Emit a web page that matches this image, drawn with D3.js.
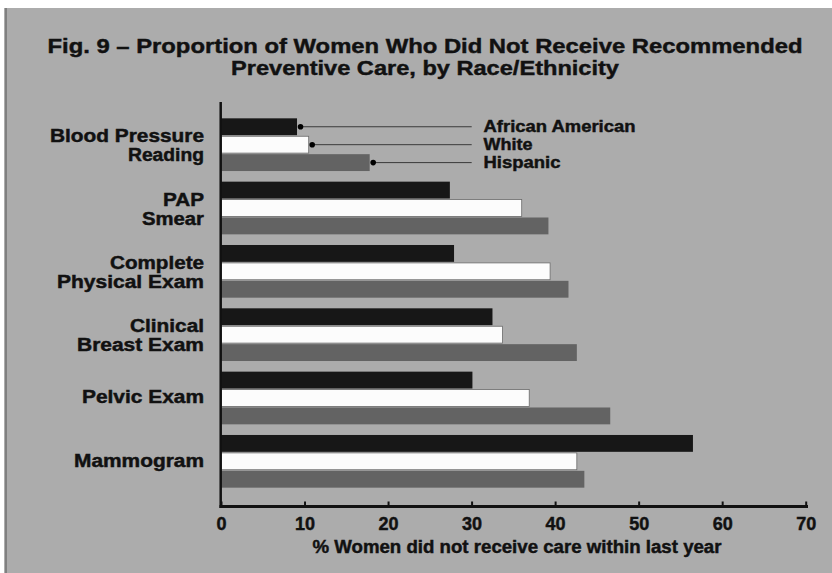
<!DOCTYPE html>
<html>
<head>
<meta charset="utf-8">
<script src="https://cdn.jsdelivr.net/npm/d3@7"></script>
<style>
  html, body { margin: 0; padding: 0; background: #ffffff; }
  svg { display: block; }
  text { font-family: "Liberation Sans", Arial, Helvetica, sans-serif; font-weight: bold; fill: #111;
         stroke: #111; stroke-width: 0.45px; }
</style>
</head>
<body>
<script>
// ---- data ----
const categories = ["Blood Pressure Reading", "PAP Smear", "Complete Physical Exam",
                    "Clinical Breast Exam", "Pelvic Exam", "Mammogram"];
const categoryLines = [["Blood Pressure", "Reading"], ["PAP", "Smear"], ["Complete", "Physical Exam"],
                       ["Clinical", "Breast Exam"], ["Pelvic Exam"], ["Mammogram"]];
const seriesNames = ["African American", "White", "Hispanic"];
const africanAmerican = [9.1, 27.4, 27.9, 32.5, 30.1, 56.5];
const white           = [10.5, 36.0, 39.4, 33.7, 36.9, 42.6];
const hispanic        = [17.8, 39.2, 41.6, 42.6, 46.6, 43.5];
const xTicks = [0, 10, 20, 30, 40, 50, 60, 70];
const titleLines = ["Fig. 9 \u2013 Proportion of Women Who Did Not Receive Recommended",
                    "Preventive Care, by Race/Ethnicity"];
const xAxisTitle = "% Women did not receive care within last year";

// ---- layout ----
const W = 832, H = 573;
const seriesValues = [africanAmerican, white, hispanic];
const seriesFill = ["#171717", "#fcfcfc", "#636363"];
const labelWidths = [[154, 76], [41, 62], [94, 147], [74, 127], [122], [130]];
const legendWidths = [152, 49, 77];

const svg = d3.select("body").append("svg").attr("width", W).attr("height", H);

// background
svg.append("rect").attr("width", W).attr("height", H).attr("fill", "#ffffff");
svg.append("rect").attr("x", 4).attr("y", 8).attr("width", W - 4).attr("height", H - 8).attr("fill", "#acacac");
svg.append("line").attr("x1", 6).attr("x2", 6).attr("y1", 8).attr("y2", H)
  .attr("stroke", "#555").attr("stroke-width", 1);

const x = d3.scaleLinear().domain([0, 70]).range([221, 805.7]);
const y = d3.scaleBand().domain(categories).range([112, 494]).paddingInner(0.168).paddingOuter(0.1);
const ySub = d3.scaleBand().domain(seriesNames).range([0, y.bandwidth()]).paddingInner(0.06);

// title
svg.selectAll("text.title").data(titleLines).join("text")
  .attr("class", "title")
  .attr("x", 425).attr("y", (d, i) => 53 + i * 22)
  .attr("text-anchor", "middle")
  .attr("font-size", 21)
  .attr("textLength", (d, i) => i === 0 ? 755 : 388)
  .attr("lengthAdjust", "spacingAndGlyphs")
  .text(d => d);

// bars
const groups = svg.selectAll("g.grp").data(categories).join("g")
  .attr("class", "grp")
  .attr("transform", d => `translate(0,${y(d)})`);

groups.each(function(cat, ci) {
  const g = d3.select(this);
  seriesNames.forEach((s, si) => {
    g.append("rect")
      .attr("x", x(0))
      .attr("y", ySub(s))
      .attr("width", x(seriesValues[si][ci]) - x(0))
      .attr("height", ySub.bandwidth())
      .attr("fill", seriesFill[si])
      .attr("stroke", si === 1 ? "#6a6a6a" : "none")
      .attr("stroke-width", si === 1 ? 0.8 : 0);
  });
});

// category labels
groups.each(function(cat, ci) {
  const g = d3.select(this);
  const lines = categoryLines[ci];
  const c = y.bandwidth() / 2;
  const base = lines.length === 1 ? [c + 5.5] : [c - 2.5, c + 16.8];
  lines.forEach((ln, li) => {
    g.append("text")
      .attr("x", 204).attr("y", base[li])
      .attr("text-anchor", "end")
      .attr("font-size", 17.5)
      .attr("textLength", labelWidths[ci][li])
      .attr("lengthAdjust", "spacingAndGlyphs")
      .text(ln);
  });
});

// legend (leader lines from first group)
const first = categories[0];
seriesNames.forEach((s, si) => {
  const cy = y(first) + ySub(s) + ySub.bandwidth() / 2;
  const dx = x(seriesValues[si][0]) + 3.5;
  svg.append("line").attr("x1", dx).attr("x2", 471.7).attr("y1", cy).attr("y2", cy)
    .attr("stroke", "#3a3a3a").attr("stroke-width", 1);
  svg.append("circle").attr("cx", dx).attr("cy", cy).attr("r", 2.8).attr("fill", "#000");
  svg.append("text").attr("x", 483.5).attr("y", cy + 5.5)
    .attr("font-size", 16.5)
    .attr("textLength", legendWidths[si])
    .attr("lengthAdjust", "spacingAndGlyphs")
    .text(s);
});

// axes
const axisY = 506.5;
const xAxis = d3.axisBottom(x).tickValues(xTicks).tickSize(0).tickPadding(0);
const ax = svg.append("g").attr("transform", `translate(0,${axisY})`).call(xAxis);
ax.select(".domain").remove();
ax.selectAll(".tick text")
  .attr("y", 23)
  .attr("dy", 0)
  .attr("font-size", 18)
  .attr("font-family", null)
  .attr("fill", "#111")
  .style("font-weight", "bold");
ax.selectAll(".tick").append("line")
  .attr("y1", 0).attr("y2", -5).attr("stroke", "#111").attr("stroke-width", 2);
svg.append("line").attr("x1", 219.5).attr("x2", 808).attr("y1", axisY).attr("y2", axisY)
  .attr("stroke", "#111").attr("stroke-width", 3);
svg.append("line").attr("x1", 220.7).attr("x2", 220.7).attr("y1", 102).attr("y2", axisY + 1.5)
  .attr("stroke", "#111").attr("stroke-width", 2.5);

svg.append("text").attr("x", 517).attr("y", 553)
  .attr("text-anchor", "middle")
  .attr("font-size", 18)
  .attr("textLength", 409)
  .attr("lengthAdjust", "spacingAndGlyphs")
  .text(xAxisTitle);
</script>
</body>
</html>
